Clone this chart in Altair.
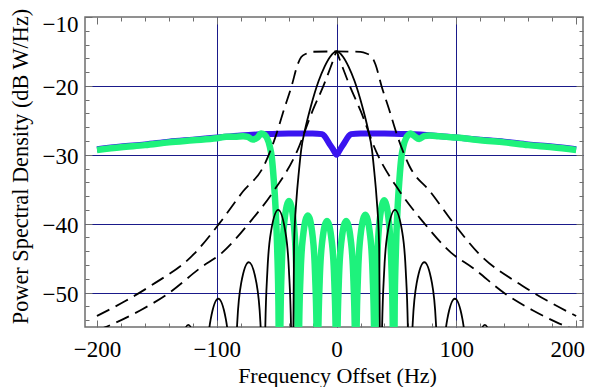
import altair as alt
import pandas as pd

W, H = 498, 310

# ---------------- data ----------------
BLUE_F = [-200, -180, -160, -140, -120, -100, -80, -60, -40, -20, -12, -10, -6, -3, 0,
          3, 6, 10, 12, 20, 40, 60, 80, 100, 120, 140, 160, 180, 200]
BLUE_DB = [-29.2, -28.8, -28.5, -28.1, -27.8, -27.5, -27.2, -27.0, -26.9, -26.9, -27.0, -27.3, -28.4, -29.2, -30.0,
           -29.2, -28.4, -27.3, -27.0, -26.9, -26.9, -27.0, -27.2, -27.5, -27.8, -28.1, -28.5, -28.8, -29.2]

GREEN_F = [-200, -180, -160, -140, -120, -100, -92, -85, -78, -74, -70, -66, -63, -60, -58, -56, -54, -52.5, -51, -49.5, -48.5,
           -47.5, -46.9, -45.6, -43.6, -39.75, -35.9, -33.9, -32.6,
           -32, -31.4, -30.1, -28, -24, -20, -17.9, -16.6,
           -16, -15.4, -14.1, -12, -8, -4, -1.9, -0.6,
           0, 0.6, 1.9, 4, 8, 12, 14.1, 15.4,
           16, 16.6, 17.9, 20, 24, 28, 30.1, 31.4,
           32, 32.6, 33.9, 35.9, 39.75, 43.6, 45.6, 46.9,
           47.5, 48.5, 49.5, 51, 52.5, 54, 56, 58, 60, 62, 65, 69, 73, 78, 85, 92, 100, 120, 140, 160, 180, 200]
GREEN_DB = [-29.3, -28.9, -28.6, -28.2, -27.9, -27.6, -27.4, -27.4, -27.3, -27.4, -27.8, -27.5, -26.9, -27.1, -27.6, -28.6, -30.5, -33.5, -37.5, -44.0, -52.0,
            -75, -54.7, -45.4, -39.7, -36.7, -39.7, -45.4, -54.7,
            -75, -56.8, -47.5, -41.8, -38.8, -41.8, -47.5, -56.8,
            -75, -57.6, -48.3, -42.6, -39.6, -42.6, -48.3, -57.6,
            -75, -57.6, -48.3, -42.6, -39.6, -42.6, -48.3, -57.6,
            -75, -56.7, -47.4, -41.7, -38.7, -41.7, -47.4, -56.7,
            -75, -54.6, -45.3, -39.6, -36.6, -39.6, -45.3, -54.6,
            -75, -52.0, -44.0, -37.5, -33.5, -30.5, -28.6, -27.6, -27.1, -26.9, -27.3, -27.7, -27.3, -27.2, -27.3, -27.4, -27.5, -27.9, -28.2, -28.6, -28.9, -29.3]

SOLID_F = [-136, -133.1, -129.9, -123.75, -117.6, -114.4,
           -111.5, -110.5, -108.4, -105.1, -98.75, -92.4, -89.1, -87.0,
           -86, -85.0, -82.9, -79.6, -73.25, -66.9, -63.6, -61.5,
           -60.5, -59.6, -57.7, -54.6, -48.75, -42.9, -39.8, -37.9,
           -37, -35.5, -33.5, -31.5, -29.5, -26.5, -21.5, -15, -10, -5.5, 0,
           5.5, 10, 15, 21.5, 26.5, 29.5, 31.5, 33.5, 35.5, 37,
           37.9, 39.8, 42.9, 48.75, 54.6, 57.7, 59.6, 60.5,
           61.5, 63.6, 66.9, 73.25, 79.6, 82.9, 85.0, 86,
           87.0, 89.1, 92.4, 98.75, 105.1, 108.4, 110.5, 111.5,
           114.4, 117.6, 123.75, 129.9, 133.1, 136]
SOLID_DB = [-75, -63.4, -57.7, -54.7, -57.7, -63.4,
            -75, -68.9, -59.6, -53.9, -50.9, -53.9, -59.6, -68.9,
            -75, -63.6, -54.3, -48.6, -45.6, -48.6, -54.3, -63.6,
            -75, -56.0, -46.7, -41.0, -38.0, -41.0, -46.7, -56.0,
            -75, -43.0, -36.5, -32.5, -29.2, -26.5, -23.0, -19.3, -17.2, -15.8, -15.0,
            -15.8, -17.2, -19.3, -23.0, -26.5, -29.2, -32.5, -36.5, -43.0, -75,
            -56.0, -46.7, -41.0, -38.0, -41.0, -46.7, -56.0, -75,
            -63.6, -54.3, -48.6, -45.6, -48.6, -54.3, -63.6, -75,
            -68.9, -59.6, -53.9, -50.9, -53.9, -59.6, -68.9, -75,
            -63.4, -57.7, -54.7, -57.7, -63.4, -75]

WIDE_DASH_F = [-200, -176, -155, -119, -98, -78, -61, -51, -44, -37.5, -32.5, -29.5, -25, -20, 0,
               20, 25, 29.5, 32.5, 37.5, 44, 51, 61, 78, 98, 119, 155, 176, 200]
WIDE_DASH_DB = [-53.4, -51.2, -49.0, -44.4, -40.0, -35.3, -31.7, -27.4, -23.5, -20.0, -16.9, -15.8, -15.3, -15.05, -15.0,
                -15.05, -15.3, -15.8, -16.9, -20.0, -23.5, -27.4, -31.7, -35.3, -40.0, -44.4, -49.0, -51.2, -53.4]

NARROW_DASH_F = [-200, -186, -164, -141, -113.5, -95.5, -72, -52.6, -33, -20, -11, -5, -2, 0,
                 2, 5, 11, 20, 33, 52.6, 72, 95.5, 113.5, 141, 164, 186, 200]
NARROW_DASH_DB = [-55.5, -54.5, -52.6, -50.2, -46.4, -44.2, -39.7, -35.3, -29.5, -23.6, -20.0, -17.3, -15.9, -15.0,
                  -15.9, -17.3, -20.0, -23.6, -29.5, -35.3, -39.7, -44.2, -46.4, -50.2, -52.6, -54.5, -55.5]

X_LABELS = [-200, -100, 0, 100, 200]
Y_LABELS = [-10, -20, -30, -40, -50]
X_GRID = [-100, 0, 100]
Y_GRID = [-20, -30, -40, -50]
X_TICKS = list(range(-200, 201, 20))
Y_TICKS = list(range(-54, -9, 2))

# ---------------- styling ----------------
FONT = "Liberation Serif"
FRAME = "#6e6e6e"
GRID = "#1a1a8a"
BLUE = "#3a14f0"
GREEN = "#1ef27c"

XS = alt.Scale(domain=[-210, 205.7], nice=False, zero=False)
YS = alt.Scale(domain=[-55, -10], nice=False, zero=False)


def df(f, d):
    return pd.DataFrame({"f": f, "db": d})


x_tick_size = {"condition": {"test": "datum.value % 100 === 0", "value": 7}, "value": 4}
y_tick_size = {"condition": {"test": "datum.value % 10 === 0", "value": 7}, "value": 4}


def tick_axis(orient, values, size, offset):
    return alt.Axis(orient=orient, values=values, tickSize=size, offset=offset,
                    labels=False, domain=False, grid=False, ticks=True,
                    tickColor=FRAME, tickWidth=1, title=None)


def grid_axis(orient, values):
    return alt.Axis(orient=orient, values=values, grid=True, gridColor=GRID, gridWidth=1,
                    gridOpacity=1, ticks=False, labels=False, domain=False, title=None)


x_label_axis = alt.Axis(orient="bottom", values=X_LABELS, ticks=False, tickSize=0, domain=False, grid=False,
                        labelFont=FONT, labelFontSize=23, labelColor="black", labelPadding=29,
                        labelBaseline="alphabetic", labelFlush=False, labelOverlap=False,
                        labelOffset={"condition": {"test": "datum.value === 200", "value": -9}, "value": 0},
                        title="Frequency Offset (Hz)", titleFont=FONT, titleFontSize=22,
                        titleFontWeight="normal", titleColor="black", titleBaseline="alphabetic",
                        titleX=252, titleY=55)

y_label_axis = alt.Axis(orient="left", values=Y_LABELS, ticks=False, tickSize=0, domain=False, grid=False,
                        labelFont=FONT, labelFontSize=23, labelColor="black", labelPadding=7,
                        labelBaseline="middle", labelFlush=False, labelOverlap=False,
                        labelOffset={"condition": {"test": "datum.value === -10", "value": 7}, "value": 2},
                        title="Power Spectral Density (dB W/Hz)", titleFont=FONT, titleFontSize=22.3,
                        titleFontWeight="normal", titleColor="black", titleBaseline="alphabetic",
                        titleX=-58, titleY=149, titleAlign="center")

blue = alt.Chart(df(BLUE_F, BLUE_DB)).mark_line(
    color=BLUE, strokeWidth=6, clip=True, interpolate="monotone", strokeJoin="round"
).encode(
    x=alt.X("f:Q", scale=XS, axis=x_label_axis),
    y=alt.Y("db:Q", scale=YS, axis=y_label_axis),
)

green = alt.Chart(df(GREEN_F, GREEN_DB)).mark_line(
    color=GREEN, strokeWidth=6.5, clip=True, interpolate="monotone", strokeJoin="round"
).encode(
    x=alt.X("f:Q", scale=XS, axis=tick_axis("top", X_TICKS, x_tick_size, -H)),
    y=alt.Y("db:Q", scale=YS, axis=tick_axis("right", Y_TICKS, y_tick_size, -W)),
)

solid = alt.Chart(df(SOLID_F, SOLID_DB)).mark_line(
    color="black", strokeWidth=1.8, clip=True, interpolate="monotone"
).encode(
    x=alt.X("f:Q", scale=XS, axis=tick_axis("bottom", X_TICKS, x_tick_size, -H)),
    y=alt.Y("db:Q", scale=YS, axis=tick_axis("left", Y_TICKS, y_tick_size, -W)),
)

wide = alt.Chart(df(WIDE_DASH_F, WIDE_DASH_DB)).mark_line(
    color="black", strokeWidth=1.8, clip=True, interpolate="monotone", strokeDash=[14, 7]
).encode(
    x=alt.X("f:Q", scale=XS, axis=grid_axis("top", X_GRID)),
    y=alt.Y("db:Q", scale=YS, axis=grid_axis("right", Y_GRID)),
)

narrow = alt.Chart(df(NARROW_DASH_F, NARROW_DASH_DB)).mark_line(
    color="black", strokeWidth=1.8, clip=True, interpolate="monotone", strokeDash=[14, 7]
).encode(
    x=alt.X("f:Q", scale=XS, axis=None),
    y=alt.Y("db:Q", scale=YS, axis=None),
)

chart = alt.layer(blue, green, solid, wide, narrow).resolve_axis(
    x="independent", y="independent"
).properties(
    width=W, height=H,
    autosize=alt.AutoSizeParams(type="none"),
    padding={"left": 77, "top": 9, "right": 2, "bottom": 60},
    background="white",
).configure_view(stroke=FRAME, strokeWidth=1.5)

chart.save("out.html", embed_options={"renderer": "svg", "actions": False})
